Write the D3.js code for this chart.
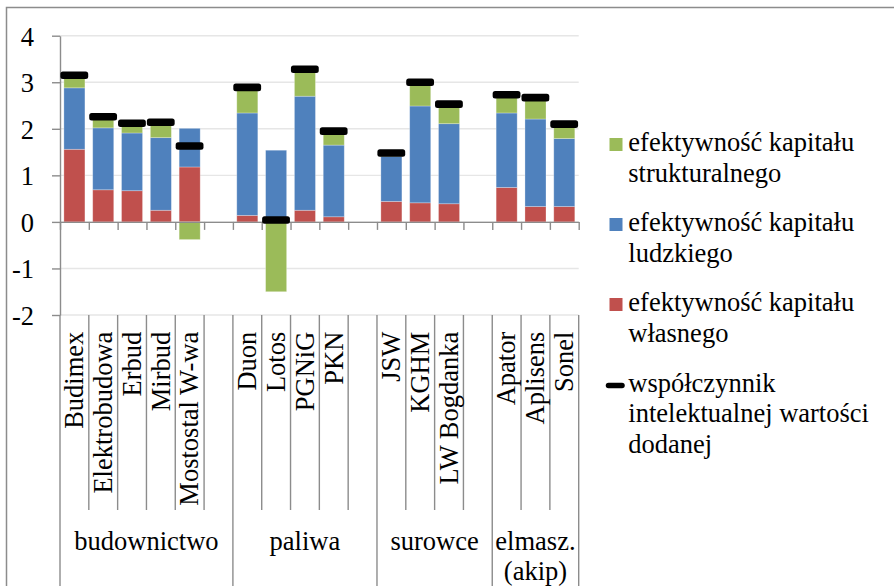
<!DOCTYPE html>
<html>
<head>
<meta charset="utf-8">
<script src="https://cdn.jsdelivr.net/npm/d3@7"></script>
<style>
  html, body { margin: 0; padding: 0; background: #fff; }
  svg text { font-family: "Liberation Serif", "DejaVu Serif", serif; fill: #000; }
</style>
</head>
<body>
<svg id="chart" width="894" height="586"></svg>
<script>
// Company slots; empty strings leave a gap between sectors
const categories = ["Budimex", "Elektrobudowa", "Erbud", "Mirbud", "Mostostal W-wa", "",
  "Duon", "Lotos", "PGNiG", "PKN", "",
  "JSW", "KGHM", "LW Bogdanka", "",
  "Apator", "Aplisens", "Sonel"];

// Sector labels and how many slots each sector spans
const groupLabels = [["budownictwo"], ["paliwa"], ["surowce"], ["elmasz.", "(akip)"]];
const groupSizes = [6, 5, 4, 3];

// efektywność kapitału własnego (CEE)
const wlasnego = [1.56, 0.69, 0.67, 0.25, 1.18, null, 0.14, 0.02, 0.25, 0.11, null, 0.44, 0.41, 0.39, null, 0.74, 0.33, 0.33];
// efektywność kapitału ludzkiego (HCE)
const ludzkiego = [1.32, 1.33, 1.24, 1.56, 0.83, null, 2.20, 1.52, 2.45, 1.54, null, 0.97, 2.08, 1.72, null, 1.60, 1.88, 1.46];
// efektywność kapitału strukturalnego (SCE)
const strukturalnego = [0.27, 0.24, 0.21, 0.33, -0.38, null, 0.55, -1.50, 0.58, 0.30, null, 0.07, 0.51, 0.42, null, 0.39, 0.46, 0.31];
// współczynnik intelektualnej wartości dodanej (VAIC)
const vaic = [3.15, 2.26, 2.12, 2.14, 1.63, null, 2.89, 0.04, 3.28, 1.95, null, 1.48, 3.00, 2.53, null, 2.73, 2.67, 2.10];

const yTicks = [-2, -1, 0, 1, 2, 3, 4];
const yTickLabels = ["-2", "-1", "0", "1", "2", "3", "4"];

const legendItems = [
  { key: "strukturalnego", lines: ["efektywność kapitału", "strukturalnego"] },
  { key: "ludzkiego", lines: ["efektywność kapitału", "ludzkiego"] },
  { key: "wlasnego", lines: ["efektywność kapitału", "własnego"] },
  { key: "vaic", lines: ["współczynnik", "intelektualnej wartości", "dodanej"] }
];

const colors = { wlasnego: "#C0504D", ludzkiego: "#4F81BD", strukturalnego: "#9BBB59", vaic: "#000" };

const W = 894, H = 586;
const FS = 26.5;
const FONT = "'Liberation Serif', 'DejaVu Serif', serif";
const axisColor = "#8c8c8c";
const gridColor = "#e6e6e6";
const plotLeft = 60, plotRight = 578.7;

const svg = d3.select("#chart");

// Outer chart frame
svg.append("rect")
  .attr("x", 6.5).attr("y", 7.5).attr("width", W + 20).attr("height", H + 20)
  .attr("fill", "none").attr("stroke", axisColor).attr("stroke-width", 1.5);

const y = d3.scaleLinear().domain([-2, 4]).range([315, 35.7]);
const x = d3.scaleBand().domain(d3.range(categories.length)).range([plotLeft, plotRight]).padding(0);
const xb = d3.scaleLinear().domain([0, categories.length]).range([plotLeft, plotRight]);
const barW = x.bandwidth() * 0.73;

// Horizontal gridlines
svg.append("g").selectAll("line").data(yTicks).join("line")
  .attr("x1", plotLeft).attr("x2", plotRight)
  .attr("y1", d => y(d)).attr("y2", d => y(d))
  .attr("stroke", gridColor).attr("stroke-width", 1.4);

// Stacked bars (positive up, negative down)
const rows = categories.map((c, i) => ({
  i, wlasnego: wlasnego[i] || 0, ludzkiego: ludzkiego[i] || 0, strukturalnego: strukturalnego[i] || 0
}));
const stack = d3.stack().keys(["wlasnego", "ludzkiego", "strukturalnego"]).offset(d3.stackOffsetDiverging);
const series = stack(rows);

svg.append("g").selectAll("g").data(series).join("g")
  .attr("fill", s => colors[s.key])
  .attr("stroke", "rgba(255,255,255,0.35)")
  .attr("stroke-width", 0.8)
  .selectAll("rect").data(s => s.filter(d => categories[d.data.i] !== "")).join("rect")
  .attr("x", d => x(d.data.i) + (x.bandwidth() - barW) / 2)
  .attr("width", barW)
  .attr("y", d => y(Math.max(d[0], d[1])))
  .attr("height", d => Math.abs(y(d[0]) - y(d[1])));

// Y axis
const yAxis = svg.append("g").attr("transform", `translate(${plotLeft},0)`)
  .call(d3.axisLeft(y).tickValues(yTicks).tickFormat((d, i) => yTickLabels[i])
    .tickSize(8).tickSizeOuter(0).tickPadding(18));
yAxis.attr("font-family", FONT);
yAxis.selectAll("path, line").attr("stroke", axisColor).attr("stroke-width", 1.4);
yAxis.selectAll("text").attr("font-size", FS).attr("font-family", FONT).attr("dy", "0.36em").attr("fill", "#000");

// X axis at zero with ticks at slot boundaries
const xAxis = svg.append("g").attr("transform", `translate(0,${y(0)})`)
  .call(d3.axisBottom(xb).tickValues(d3.range(categories.length + 1)).tickFormat("")
    .tickSize(8).tickSizeOuter(0));
xAxis.selectAll("path, line").attr("stroke", axisColor).attr("stroke-width", 1.4);

// VAIC markers
svg.append("g").selectAll("rect").data(vaic.map((v, i) => ({ v, i })).filter(d => d.v !== null)).join("rect")
  .attr("x", d => x(d.i) + 0.4)
  .attr("width", x.bandwidth() - 1)
  .attr("y", d => y(d.v) - 3.8)
  .attr("height", 7.6)
  .attr("rx", 2.5)
  .attr("fill", colors.vaic);

// Category-axis separators: long at sector edges, short between companies
const groupEdges = [0];
groupSizes.forEach(s => groupEdges.push(groupEdges[groupEdges.length - 1] + s));
svg.append("g").selectAll("line").data(d3.range(categories.length + 1)).join("line")
  .attr("x1", d => xb(d)).attr("x2", d => xb(d))
  .attr("y1", y(-2))
  .attr("y2", d => groupEdges.includes(d) ? H + 5 : 510)
  .attr("stroke", axisColor).attr("stroke-width", 1.4);

// Rotated company names
svg.append("g").selectAll("text").data(categories.map((c, i) => ({ c, i })).filter(d => d.c !== "")).join("text")
  .attr("transform", d => `translate(${x(d.i) + x.bandwidth() / 2 + 8.8},331.7) rotate(-90)`)
  .attr("text-anchor", "end")
  .attr("font-family", FONT)
  .attr("font-size", FS)
  .text(d => d.c);

// Sector names
const gl = svg.append("g").selectAll("text").data(groupLabels).join("text")
  .attr("x", (d, i) => (xb(groupEdges[i]) + xb(groupEdges[i + 1])) / 2)
  .attr("y", 550)
  .attr("text-anchor", "middle")
  .attr("font-family", FONT)
  .attr("font-size", FS);
gl.selectAll("tspan").data(d => d).join("tspan")
  .attr("x", function () { return this.parentNode.getAttribute("x"); })
  .attr("dy", (d, i) => i === 0 ? 0 : 30)
  .text(d => d);

// Legend
const legendTop = [151, 231, 311, 391.5];
const lg = svg.append("g").selectAll("g").data(legendItems).join("g")
  .attr("transform", (d, i) => `translate(0,${legendTop[i]})`);
lg.filter(d => d.key !== "vaic").append("rect")
  .attr("x", 609.5).attr("y", -13).attr("width", 13).attr("height", 13)
  .attr("fill", d => colors[d.key]);
lg.filter(d => d.key === "vaic").append("line")
  .attr("x1", 608.5).attr("x2", 622).attr("y1", -6).attr("y2", -6)
  .attr("stroke", colors.vaic).attr("stroke-width", 5.5).attr("stroke-linecap", "round");
lg.append("text")
  .attr("x", 628.3).attr("y", 0)
  .attr("font-family", FONT)
  .attr("font-size", FS)
  .selectAll("tspan").data(d => d.lines).join("tspan")
  .attr("x", 628.3).attr("dy", (d, i) => i === 0 ? 0 : 30.5)
  .text(d => d);
</script>
</body>
</html>
